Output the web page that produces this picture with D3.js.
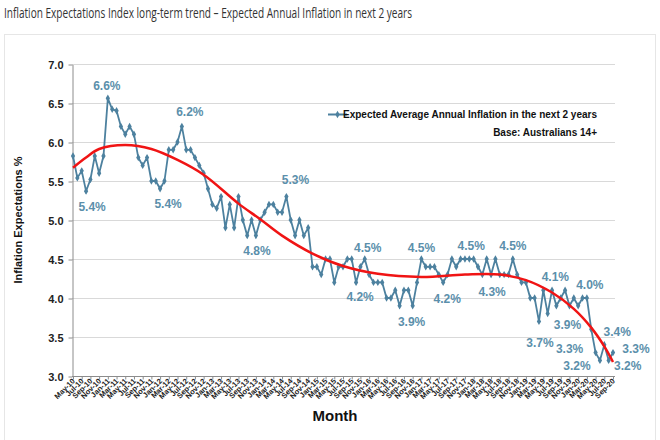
<!DOCTYPE html>
<html>
<head>
<meta charset="utf-8">
<script src="https://d3js.org/d3.v7.min.js"></script>
<style>
  body { margin: 0; background: #fff; }
  svg text { font-family: "Liberation Sans", Arial, sans-serif; }
</style>
</head>
<body>
<div id="chart"></div>
<script>
// months May-10 .. Sep-20 (monthly)
var months = d3.timeMonth.range(new Date(2010, 4, 1), new Date(2020, 9, 1)).map(d3.timeFormat("%b-%y"));

// expected average annual inflation in the next 2 years (%)
var inflation = [
  5.82, 5.54, 5.63, 5.37, 5.52, 5.82, 5.60, 5.82, 6.56, 6.42,
  6.40, 6.20, 6.10, 6.20, 6.10, 5.80, 5.70, 5.80, 5.50, 5.50,
  5.40, 5.50, 5.90, 5.90, 6.00, 6.20, 5.90, 5.90, 5.80, 5.70,
  5.60, 5.40, 5.20, 5.15, 5.30, 4.90, 5.20, 4.90, 5.30, 5.00,
  4.80, 5.00, 4.80, 5.00, 5.10, 5.20, 5.20, 5.10, 5.10, 5.30,
  5.00, 4.80, 5.00, 4.80, 4.90, 4.40, 4.40, 4.30, 4.50, 4.50,
  4.20, 4.40, 4.40, 4.50, 4.50, 4.20, 4.40, 4.50, 4.30, 4.20,
  4.20, 4.20, 4.00, 4.00, 4.10, 3.90, 4.10, 4.10, 3.90, 4.20,
  4.50, 4.40, 4.40, 4.40, 4.30, 4.20, 4.30, 4.50, 4.40, 4.50,
  4.50, 4.50, 4.50, 4.40, 4.30, 4.50, 4.30, 4.50, 4.30, 4.30,
  4.30, 4.50, 4.30, 4.20, 4.20, 4.00, 4.00, 3.70, 4.10, 3.80,
  4.10, 3.90, 4.00, 4.10, 3.90, 4.00, 3.90, 4.00, 4.00, 3.60,
  3.30, 3.20, 3.40, 3.20, 3.30
];

// red trend line (month index, value)
var trendIdx = [0, 3, 6, 12, 18, 24, 30, 38, 43, 48, 55, 62, 70, 80, 90, 98, 104, 110, 115, 119, 122, 124];
var trendVal = [5.67, 5.80, 5.91, 5.96, 5.91, 5.77, 5.58, 5.21, 5.01, 4.80, 4.57, 4.41, 4.31, 4.27, 4.30, 4.30, 4.23, 4.07, 3.86, 3.62, 3.38, 3.18];

// point labels (month index, text)
var labelIdx  = [8, 3, 20, 25, 42, 49, 67, 65, 80, 75, 85, 91, 96, 101, 107, 108, 114, 118, 122, 120, 121, 124, 123];
var labelText = ["6.6%", "5.4%", "5.4%", "6.2%", "4.8%", "5.3%", "4.5%", "4.2%", "4.5%", "3.9%", "4.2%", "4.5%", "4.3%", "4.5%", "3.7%", "4.1%", "3.9%", "4.0%", "3.4%", "3.3%", "3.2%", "3.3%", "3.2%"];
var labelOff  = [[-1, -13], [6, 16], [8, 15], [8, -15], [1, 15], [9, -17], [3, -11], [4, 14], [0, -11], [12, 16], [4, 16], [2, -13], [1, 17], [0, -13], [1, 21], [12, -13], [-2, 19], [3, -13], [13, -13], [-26, -4], [-23, 5], [23, -4], [19, 5]];

var yTicks = [3.0, 3.5, 4.0, 4.5, 5.0, 5.5, 6.0, 6.5, 7.0];

var W = 660, H = 440;
var lineColor = "#4d819f", labelColor = "#5b8fab";

var svg = d3.select("#chart").append("svg")
  .attr("width", W).attr("height", H);

svg.append("text")
  .attr("x", 4).attr("y", 18)
  .attr("textLength", 408).attr("lengthAdjust", "spacingAndGlyphs")
  .style("font-family", "'Open Sans', sans-serif")
  .style("font-size", "14px").style("fill", "#333")
  .text("Inflation Expectations Index long-term trend \u2013 Expected Annual Inflation in next 2 years");

svg.append("rect")
  .attr("x", 4.5).attr("y", 34.5).attr("width", 651).attr("height", 420)
  .style("fill", "#fff").style("stroke", "#e6e6e6");

var x = d3.scalePoint().domain(months).range([73, 613]);
var y = d3.scaleLinear().domain([3, 7]).range([376, 64]);

// gridlines
svg.append("g").selectAll("line")
  .data(yTicks.slice(1))
  .enter().append("line")
  .attr("x1", 72).attr("x2", 615)
  .attr("y1", function(d) { return y(d) + 0.5; })
  .attr("y2", function(d) { return y(d) + 0.5; })
  .style("stroke", "#d9d9d9");

// y axis
var yAxis = d3.axisLeft(y).tickValues(yTicks).tickFormat(d3.format(".1f")).tickSizeInner(4).tickSizeOuter(0);
var gy = svg.append("g").attr("transform", "translate(72.5,0.5)").call(yAxis);
gy.select(".domain").style("stroke", "#8c8c8c");
gy.selectAll(".tick line").style("stroke", "#8c8c8c");
gy.selectAll(".tick text")
  .attr("x", -9)
  .style("font-size", "11px").style("font-weight", "bold").style("fill", "#222")
  .style("font-family", "'Liberation Sans', Arial, sans-serif");

// x axis
var xAxis = d3.axisBottom(x)
  .tickValues(months.filter(function(d, i) { return i % 2 === 0; }))
  .tickSizeInner(3).tickSizeOuter(0);
var gx = svg.append("g").attr("transform", "translate(0,376.5)").call(xAxis);
gx.select(".domain").attr("d", "M72,0H615").style("stroke", "#8c8c8c");
gx.selectAll(".tick line").style("stroke", "#8c8c8c");
gx.selectAll(".tick text")
  .attr("y", 0).attr("dy", 0)
  .attr("transform", "translate(2,5) rotate(-45)")
  .style("text-anchor", "end")
  .style("font-size", "7.5px").style("font-weight", "bold").style("fill", "#222")
  .style("font-family", "'Liberation Sans', Arial, sans-serif");

// axis titles
svg.append("text")
  .attr("transform", "translate(22,220) rotate(-90)")
  .style("text-anchor", "middle")
  .style("font-size", "11px").style("font-weight", "bold").style("fill", "#111")
  .text("Inflation Expectations %");

svg.append("text")
  .attr("x", 335).attr("y", 421)
  .style("text-anchor", "middle")
  .style("font-size", "15px").style("font-weight", "bold").style("fill", "#111")
  .text("Month");

// series line
var line = d3.line()
  .x(function(d, i) { return x(months[i]); })
  .y(function(d) { return y(d); });

svg.append("path")
  .datum(inflation)
  .attr("d", line)
  .style("fill", "none").style("stroke", lineColor).style("stroke-width", 1.8);

var diamond = d3.symbol().type(d3.symbolDiamond).size(16);
svg.append("g").selectAll("path")
  .data(inflation)
  .enter().append("path")
  .attr("d", diamond)
  .attr("transform", function(d, i) { return "translate(" + x(months[i]) + "," + y(d) + ")"; })
  .style("fill", lineColor);

// trend line
var trend = d3.line()
  .curve(d3.curveCatmullRom)
  .x(function(d, i) { return x(months[trendIdx[i]]); })
  .y(function(d) { return y(d); });

svg.append("path")
  .datum(trendVal)
  .attr("d", trend)
  .style("fill", "none").style("stroke", "#f01414").style("stroke-width", 2.5);

// point labels
svg.append("g").selectAll("text")
  .data(labelText)
  .enter().append("text")
  .attr("x", function(d, i) { return x(months[labelIdx[i]]) + labelOff[i][0]; })
  .attr("y", function(d, i) { return y(inflation[labelIdx[i]]) + labelOff[i][1]; })
  .attr("dy", "0.35em")
  .style("text-anchor", "middle")
  .style("font-size", "12px").style("font-weight", "bold").style("fill", labelColor)
  .text(function(d) { return d; });

// legend
var legend = svg.append("g").attr("class", "legend");
legend.append("line")
  .attr("x1", 328).attr("x2", 347).attr("y1", 114.5).attr("y2", 114.5)
  .style("stroke", lineColor).style("stroke-width", 2);
legend.append("path")
  .attr("d", diamond)
  .attr("transform", "translate(337.5,114.5)")
  .style("fill", lineColor);
legend.append("text")
  .attr("x", 597).attr("y", 118)
  .style("text-anchor", "end")
  .style("font-size", "10px").style("font-weight", "bold").style("fill", "#111")
  .text("Expected Average Annual Inflation in the next 2 years");
legend.append("text")
  .attr("x", 597).attr("y", 136)
  .style("text-anchor", "end")
  .style("font-size", "10px").style("font-weight", "bold").style("fill", "#111")
  .text("Base: Australians 14+");
</script>
</body>
</html>
